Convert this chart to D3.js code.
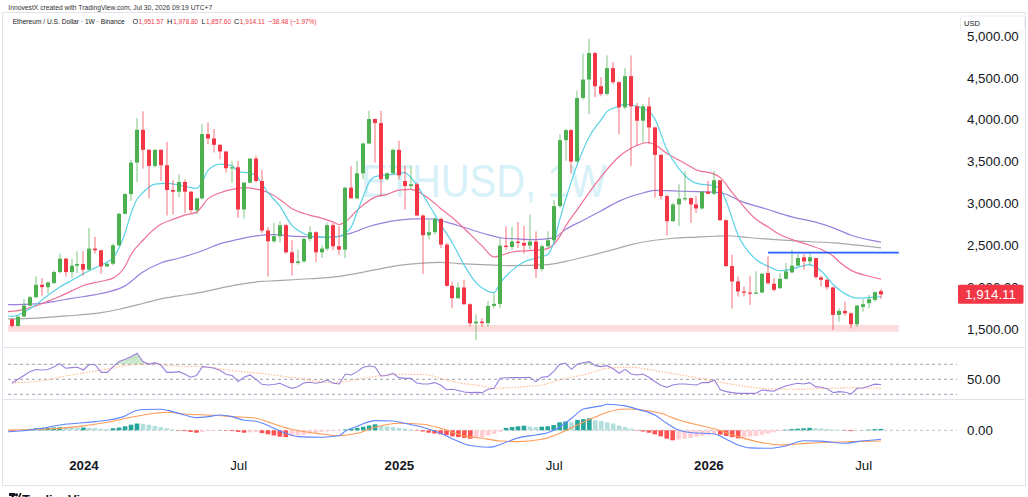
<!DOCTYPE html>
<html><head><meta charset="utf-8">
<script src="https://cdn.jsdelivr.net/npm/d3@7"></script>
<style>
html,body{margin:0;padding:0;background:#fff;}
svg{display:block;font-family:"Liberation Sans",Arial,sans-serif;}
</style></head><body>
<svg id="c" width="1028" height="497"></svg>
<script>
// ---------------- DATA ----------------
const firstWeek = "2023-10-09";           // Monday of first weekly bar
// weekly candles [open, high, low, close]
const ohlc = [
[1616,1628,1516,1536],[1536,1656,1528,1648],[1648,1856,1648,1780],[1780,1896,1768,1880],[1880,2128,1868,2028],
[2028,2108,1896,2000],[2000,2068,1920,2056],[2048,2200,2040,2180],[2180,2400,2168,2340],[2340,2350,2128,2180],
[2180,2336,2108,2256],[2256,2428,2168,2276],[2276,2428,2136,2208],[2208,2708,2200,2460],[2460,2600,2400,2440],
[2440,2448,2160,2248],[2248,2288,2240,2280],[2280,2520,2260,2500],[2500,2888,2488,2876],[2876,3120,2868,3112],
[3112,3520,3032,3488],[3488,4020,3256,3880],[3880,4100,3416,3640],[3640,3648,3064,3448],[3448,3648,3428,3640],
[3640,3648,3268,3456],[3456,3736,2856,3160],[3160,3276,2868,3140],[3140,3348,3076,3256],[3256,3288,2888,3140],
[3140,3148,2888,2920],[2920,3068,2868,3060],[3060,3948,3048,3828],[3828,3968,3708,3776],[3776,3888,3608,3700],
[3700,3708,3528,3620],[3620,3628,3368,3420],[3420,3508,3248,3432],[3432,3508,2828,2928],[2928,3256,2820,3248],
[3248,3540,3240,3536],[3536,3568,3248,3268],[3268,3396,2648,2676],[2676,2716,2128,2548],[2548,2768,2528,2608],
[2608,2788,2536,2740],[2740,2756,2400,2416],[2416,2560,2140,2288],[2288,2448,2268,2308],[2308,2596,2288,2576],
[2576,2728,2548,2656],[2656,2668,2300,2416],[2416,2500,2348,2460],[2460,2768,2436,2740],[2740,2768,2440,2488],
[2488,2728,2388,2448],[2448,3200,2348,3188],[3188,3448,3060,3060],[3060,3508,3048,3360],[3360,3728,3288,3716],
[3716,4108,3708,4008],[4008,4016,3488,3960],[3960,4108,3088,3290],[3290,3370,3270,3360],[3360,3656,3348,3640],
[3640,3748,3288,3336],[3268,3448,2928,3208],[3208,3448,3168,3228],[3228,3248,2848,2856],[2856,2868,2156,2620],
[2620,2808,2568,2656],[2656,2828,2628,2816],[2816,2828,2468,2508],[2508,2528,2008,2016],[2016,2068,1748,1868],
[1868,2056,1860,1996],[1996,2088,1788,1796],[1796,1808,1528,1568],[1568,1676,1368,1588],[1588,1628,1528,1570],
[1570,1836,1528,1776],[1776,1928,1748,1800],[1800,2588,1748,2496],[2496,2728,2448,2480],[2480,2720,2448,2544],
[2544,2780,2468,2528],[2528,2728,2400,2496],[2496,2868,2448,2544],[2544,2668,2108,2216],[2216,2508,2188,2488],
[2488,2668,2468,2560],[2560,3040,2528,2968],[2968,3828,2948,3756],[3756,3888,3508,3876],[3876,3888,3360,3500],
[3500,4348,3496,4260],[4260,4788,4240,4480],[4480,4968,4068,4796],[4796,4808,4268,4400],[4400,4508,4280,4308],
[4308,4768,4288,4616],[4616,4688,4428,4448],[4448,4456,3828,4148],[4148,4616,4128,4520],[4520,4768,3448,4160],
[4160,4200,3688,3988],[3988,4188,3728,4160],[4160,4268,3708,3908],[3908,3916,3068,3580],[3580,3588,3048,3088],
[3088,3108,2616,2788],[2788,3008,2776,2988],[2988,3228,2728,3056],[3056,3388,3028,3064],[3064,3068,2768,2988],
[2988,3088,2888,2940],[2940,3148,2928,3140],[3140,3268,3108,3116],[3116,3388,3100,3276],[3276,3280,2788,2800],
[2800,2808,2240,2252],[2252,2388,1744,2068],[2068,2128,1888,1948],[1948,2008,1888,1936],[1936,2136,1788,1928],
[1928,2188,1920,1936],[1936,2170,1928,2160],[2168,2368,2028,2048],[2040,2108,1948,1968],[1988,2168,1976,2100],
[2100,2288,2088,2188],[2176,2448,2168,2256],[2256,2396,2248,2348],[2356,2396,2208,2308],[2308,2408,2256,2356],
[2348,2348,2100,2120],[2116,2136,2008,2088],[2088,2100,1968,2000],[1996,2008,1488,1668],[1668,1748,1588,1716],
[1716,1828,1660,1688],[1688,1696,1508,1556],[1556,1788,1528,1780],[1764,1856,1708,1796],[1808,1908,1748,1856],
[1848,1948,1828,1940],[1951.57,1978.80,1857.60,1914.11]
];
// moving averages: [weekIndex, value]
const emaFast = [[-1,1660],[0,1650],[2,1700],[4,1790],[6,1900],[8,2000],[10,2080],[12,2160],[14,2230],[16,2300],[17,2350],[18,2470],[19,2650],[20,2880],[21,3050],[22,3130],[24,3230],[26,3240],[28,3220],[30,3190],[31,3180],[32,3260],[33,3400],[35,3470],[37,3450],[38,3380],[40,3360],[41,3330],[43,3128],[45,2968],[47,2740],[49,2640],[51,2600],[54,2596],[55,2608],[57,2720],[58,2900],[59,3080],[60,3250],[61,3320],[64,3348],[66,3368],[67,3310],[70,2990],[72,2750],[74,2528],[76,2260],[78,2050],[80,1950],[81,1935],[82,2048],[84,2200],[86,2300],[88,2345],[90,2390],[91,2528],[92,2800],[94,3270],[95,3470],[97,3800],[99,4000],[100,4100],[102,4160],[103,4188],[105,4156],[107,4100],[108,4010],[110,3648],[112,3420],[115,3240],[118,3210],[119,3168],[120,3020],[122,2620],[125,2330],[127,2250],[129,2196],[131,2216],[133,2256],[134,2268],[136,2190],[138,2028],[141,1885],[142,1868],[145,1880],[146,1888]];
const emaMid = [[-1,1705],[1,1720],[4,1775],[6,1830],[8,1888],[10,1955],[12,2020],[15,2070],[17,2108],[19,2250],[20,2390],[22,2560],[25,2750],[27,2808],[29,2860],[31,2896],[33,3060],[35,3128],[37,3168],[39,3188],[41,3170],[43,3130],[45,3048],[47,2940],[50,2860],[52,2825],[54,2776],[55,2748],[56,2780],[58,2920],[61,3075],[63,3108],[65,3160],[67,3168],[70,3060],[72,2940],[74,2828],[77,2630],[79,2490],[81,2360],[82,2375],[84,2420],[86,2432],[88,2442],[90,2460],[92,2600],[93,2728],[95,2930],[98,3230],[100,3408],[102,3560],[104,3660],[107,3728],[108,3700],[110,3600],[113,3480],[115,3400],[118,3350],[119,3308],[121,3130],[125,2810],[127,2720],[129,2628],[131,2570],[134,2500],[136,2450],[138,2370],[139,2300],[141,2200],[144,2130],[146,2096]];
const emaSlow = [[-1,1790],[4,1800],[7,1828],[10,1865],[14,1910],[16,1940],[19,2015],[22,2180],[25,2288],[28,2345],[32,2435],[35,2520],[38,2570],[41,2612],[44,2628],[47,2610],[51,2600],[53,2596],[55,2608],[57,2645],[60,2725],[62,2762],[65,2800],[68,2816],[71,2814],[73,2776],[76,2712],[80,2625],[82,2590],[85,2576],[88,2568],[91,2588],[93,2688],[96,2800],[99,2912],[102,3028],[106,3125],[108,3156],[111,3150],[115,3140],[118,3136],[120,3110],[122,3040],[127,2928],[131,2840],[135,2776],[138,2708],[141,2620],[146,2538]];
const emaLong = [[-1,1620],[4,1630],[9,1656],[15,1696],[18,1736],[22,1805],[25,1860],[28,1896],[32,1940],[35,1988],[38,2030],[42,2068],[44,2076],[50,2100],[55,2128],[58,2165],[62,2222],[65,2260],[69,2288],[72,2296],[75,2282],[79,2268],[82,2260],[84,2256],[90,2268],[93,2308],[97,2375],[101,2448],[104,2508],[108,2560],[111,2584],[115,2598],[118,2608],[120,2614],[124,2590],[131,2556],[138,2528],[146,2468]];
// RSI (one value per candle) and its moving average
const rsi = [
44.7,50,55,60,63,62.4,63,66.5,71,64.7,65.6,66,62.4,70,69.1,59.3,59.3,66.9,73.6,76.7,
80.2,84.7,73.6,70,72.2,69,59.3,59.3,60.2,57.1,52.7,55,66.9,66,64.7,61.6,56.5,55,46.9,52.7,
55.8,50,43.3,42.5,43,44.7,41.1,38,40,45,46,44.7,46,49,44.7,43.8,57,55.8,60.2,66,
67.8,66.5,54.4,55,58,52.2,51.3,51.3,45,43.8,43.8,45.6,42.4,36,36.7,35,33,32.2,32.5,32.2,
36.7,38,51.3,52,52.2,52.2,52.2,52.5,46.9,52.7,53.6,60.2,70,71.3,63.3,70.4,72,73.6,68.2,66.9,
68.2,64,58,63.3,57,55.8,57.1,52.7,47,42,39.3,42.4,43.8,43.8,43,42.5,45.6,45.6,49.1,36,
33.6,32.2,31.3,31.3,31.3,31.5,35.8,34.9,34,38,41.1,43,44.7,43.8,45.6,40.2,39.3,37,32.2,33.6,
32.7,30.4,38,38.5,41,43.5,43
];
const rsiMA = [[0,45.6],[4,46.9],[9,54.4],[15,62.4],[20,69.1],[24,70.4],[27,67.8],[32,66.9],[37,61.6],[43,56.7],[48,51.3],[54,45.6],[60,52.7],[65,56.7],[69,56.7],[72,51.3],[75,45.6],[79,41],[81,38],[86,40.2],[89,42.4],[92,49.1],[97,58],[100,64.7],[104,66],[109,60.2],[115,52.2],[120,44.7],[126,38],[131,36.7],[137,38],[142,38.9],[146,38]];
const rsiLevels = [70, 50, 30];
// MACD
const macdLine = [[-1,-40],[0,-30],[2,-10],[5,50],[8,133],[11,175],[14,217],[16,250],[18,310],[19,360],[20,440],[22,520],[25,525],[27,467],[29,383],[31,317],[33,342],[35,383],[37,342],[39,250],[41,225],[42,180],[44,50],[46,-75],[48,-158],[52,-175],[55,-130],[56,-20],[58,100],[61,242],[64,233],[66,175],[69,75],[72,-75],[75,-280],[77,-380],[80,-425],[81,-408],[83,-300],[85,-190],[88,-117],[90,-60],[92,75],[94,300],[96,530],[99,610],[100,650],[103,610],[105,530],[108,383],[110,175],[112,8],[114,-55],[118,-92],[120,-225],[122,-367],[124,-440],[127,-450],[130,-392],[133,-260],[136,-270],[140,-325],[142,-283],[146,-225]];
const macdSignal = [[-1,8],[5,25],[11,92],[16,200],[20,325],[24,425],[26,450],[29,408],[34,375],[37,342],[41,300],[44,158],[47,25],[52,-92],[55,-133],[58,-75],[61,75],[65,175],[69,150],[72,50],[76,-140],[79,-200],[82,-267],[85,-283],[89,-225],[92,-75],[95,133],[98,330],[100,450],[103,533],[106,508],[109,425],[112,258],[116,108],[119,-8],[122,-158],[126,-308],[129,-367],[132,-342],[137,-300],[141,-283],[146,-267]];
const macdHist = [
-25,-15,20,35,50,60,65,70,75,70,65,60,70,60,55,40,30,50,70,100,
140,170,160,140,110,80,50,20,-10,-20,-40,-60,-40,-20,-10,5,-10,-20,-40,-60,
-50,-40,-70,-100,-130,-160,-170,-150,-130,-110,-80,-60,-40,-30,-20,-10,20,40,60,90,
120,150,120,100,80,60,40,20,-10,-30,-60,-80,-100,-120,-150,-170,-190,-210,-190,-170,
-130,-90,-40,60,80,100,115,95,80,90,100,130,200,220,200,260,280,300,250,230,
200,170,120,80,40,-10,-30,-60,-100,-150,-210,-250,-230,-210,-190,-160,-140,-110,-90,-110,
-140,-170,-200,-180,-160,-140,-110,-80,-50,-20,15,30,40,50,60,50,45,35,20,10,
-10,-20,-5,5,15,30,35
];
// drawings
const supportZone = [1468, 1548];
const resistanceLevel = 2412;
const resistanceFrom = 127, drawingsTo = 149;
// axis ticks
const priceTicks = [1500,2000,2500,3000,3500,4000,4500,5000];
const xTickDates = ["2024-01-01","2024-07-01","2025-01-06","2025-07-07","2026-01-05","2026-07-06"];
const xTickLabels = ["2024","Jul","2025","Jul","2026","Jul"];
const lastPrice = 1914.11;
const legendKeys = ["O","H","L","C"];
const legendValues = ["1,951.57","1,978.80","1,857.60","1,914.11"];
const legendChange = "−38.48 (−1.97%)";

// ---------------- CHART ----------------
const svg = d3.select("#c");
const parse = d3.utcParse("%Y-%m-%d");
const t0 = parse(firstWeek);
const weekDate = i => new Date(t0.getTime() + i * 7 * 864e5);
const n = ohlc.length;
const x = d3.scaleUtc().domain([weekDate(0), weekDate(n - 1)]).range([12, 881]);
const y = d3.scaleLinear().domain([1500, 5000]).range([329, 36]);
const yR = d3.scaleLinear().domain([30, 70]).range([394.3, 364.3]);
const yM = d3.scaleLinear().domain([-500, 500]).range([450.3, 410.3]);
const UP = "#4caf50", DOWN = "#f23645", TXT = "#131722", GRID = "#e0e3eb";
const FONT = "Liberation Sans, Arial, sans-serif";

const defs = svg.append("defs");
defs.append("clipPath").attr("id","cm").append("rect").attr("x",8).attr("y",14).attr("width",949).attr("height",333);
defs.append("clipPath").attr("id","cr").append("rect").attr("x",8).attr("y",348).attr("width",949).attr("height",51);
defs.append("clipPath").attr("id","cmd").append("rect").attr("x",8).attr("y",400).attr("width",949).attr("height",52);
defs.append("clipPath").attr("id","cob").append("rect").attr("x",8).attr("y",348).attr("width",949).attr("height",yR(70)-348);
const grad = defs.append("linearGradient").attr("id","gob").attr("x1",0).attr("x2",0).attr("y1",0).attr("y2",1);
grad.append("stop").attr("offset","0%").attr("stop-color","#4caf50").attr("stop-opacity",0.35);
grad.append("stop").attr("offset","100%").attr("stop-color","#4caf50").attr("stop-opacity",0.03);

// frame
svg.append("rect").attr("x",2.5).attr("y",12.5).attr("width",1023).attr("height",473)
  .attr("fill","none").attr("stroke",GRID);
[347.5, 399.5].forEach(v => svg.append("line").attr("x1",2.5).attr("x2",1025.5).attr("y1",v).attr("y2",v).attr("stroke",GRID));

// header
svg.append("text").attr("x",8.3).attr("y",10).attr("font-size",7.3).attr("fill","#333")
  .attr("textLength",204).attr("lengthAdjust","spacingAndGlyphs")
  .text("InnovestX created with TradingView.com, Jul 30, 2026 09:19 UTC+7");
const hdr = svg.append("g").attr("font-size",7.3);
const HY = 24;
hdr.append("text").attr("x",12.7).attr("y",HY).attr("fill",TXT).attr("textLength",112).attr("lengthAdjust","spacingAndGlyphs")
  .text("Ethereum / U.S. Dollar · 1W · Binance");
const keyX = [132.4, 167, 201.5, 234];
const valX = [138.6, 173.2, 206, 239.8];
legendKeys.forEach((k,i) => {
  hdr.append("text").attr("x",keyX[i]).attr("y",HY).attr("fill",TXT).text(k);
  hdr.append("text").attr("x",valX[i]).attr("y",HY).attr("fill",DOWN)
    .attr("textLength",25).attr("lengthAdjust","spacingAndGlyphs").text(legendValues[i]);
});
hdr.append("text").attr("x",268.5).attr("y",HY).attr("fill",DOWN).attr("textLength",48).attr("lengthAdjust","spacingAndGlyphs")
  .text(legendChange);

// watermark
svg.append("text").attr("x",361).attr("y",197).attr("font-size",46).attr("fill","#d6f1f7")
  .attr("textLength",246).attr("lengthAdjust","spacingAndGlyphs").text("ETHUSD, 1W");

// main pane
const main = svg.append("g").attr("clip-path","url(#cm)");
main.append("rect").attr("x",x(weekDate(-2))).attr("width",x(weekDate(drawingsTo))-x(weekDate(-2)))
  .attr("y",y(supportZone[1])).attr("height",y(supportZone[0])-y(supportZone[1])).attr("fill","#fcdcdc");

const lineIdx = (sc) => d3.line().x(d => x(weekDate(d[0]))).y(d => sc(d[1])).curve(d3.curveMonotoneX);
[[emaLong,"#a8a8a8"],[emaSlow,"#9b80de"],[emaMid,"#ef7094"],[emaFast,"#5ad2e6"]].forEach(([arr,col]) => {
  main.append("path").attr("d",lineIdx(y)(arr)).attr("fill","none").attr("stroke",col).attr("stroke-width",1.2);
});

const candles = ohlc.map((d,i) => ({i, date: weekDate(i), o:d[0], h:d[1], l:d[2], c:d[3]}));
const cg = main.append("g");
cg.selectAll("rect.w").data(candles).join("rect").attr("class","w")
  .attr("x", d => Math.round(x(d.date)) - 0.5).attr("width",1)
  .attr("y", d => y(d.h)).attr("height", d => Math.max(1, y(d.l) - y(d.h)))
  .attr("fill", d => d.c >= d.o ? UP : DOWN).attr("opacity",0.7);
cg.selectAll("rect.b").data(candles).join("rect").attr("class","b")
  .attr("x", d => Math.round(x(d.date)) - 2).attr("width",4)
  .attr("y", d => y(Math.max(d.o,d.c))).attr("height", d => Math.max(1.2, Math.abs(y(d.o) - y(d.c))))
  .attr("fill", d => d.c >= d.o ? UP : DOWN);

main.append("line").attr("x1",x(weekDate(resistanceFrom))).attr("x2",x(weekDate(drawingsTo)))
  .attr("y1",y(resistanceLevel)).attr("y2",y(resistanceLevel)).attr("stroke","#2962ff").attr("stroke-width",1.7);

// RSI pane
const rp = svg.append("g").attr("clip-path","url(#cr)");
rsiLevels.forEach(v => rp.append("line").attr("x1",8).attr("x2",957).attr("y1",yR(v)).attr("y2",yR(v))
  .attr("stroke","#9598a1").attr("stroke-dasharray","3,3").attr("stroke-width",0.9));
const rsiPts = rsi.map((v,i) => [i,v]);
rp.append("path").attr("clip-path","url(#cob)")
  .attr("d", d3.area().x(d => x(weekDate(d[0]))).y0(yR(70)).y1(d => yR(d[1]))(rsiPts))
  .attr("fill","url(#gob)");
rp.append("path").attr("d", lineIdx(yR)(rsiMA)).attr("fill","none").attr("stroke","#ffab73")
  .attr("stroke-width",1.2).attr("stroke-dasharray","1.5,1.5").attr("opacity",0.8);
rp.append("path").attr("d", d3.line().x(d => x(weekDate(d[0]))).y(d => yR(d[1]))(rsiPts))
  .attr("fill","none").attr("stroke","#9a7fdc").attr("stroke-width",1.1);

// MACD pane
const mp = svg.append("g").attr("clip-path","url(#cmd)");
mp.append("line").attr("x1",8).attr("x2",957).attr("y1",yM(0)).attr("y2",yM(0))
  .attr("stroke","#9598a1").attr("stroke-dasharray","3,3").attr("stroke-width",0.8).attr("opacity",0.7);
const histColor = (v,p) => v >= 0 ? (v >= p ? "#26a69a" : "#b2dfdb") : (v <= p ? "#ff5252" : "#ffcdd2");
mp.selectAll("rect.h").data(macdHist.map((v,i) => ({i, v, p: i ? macdHist[i-1] : v}))).join("rect").attr("class","h")
  .attr("x", d => x(weekDate(d.i)) - 2.3).attr("width",4.6)
  .attr("y", d => Math.min(yM(0), yM(d.v))).attr("height", d => Math.abs(yM(d.v) - yM(0)))
  .attr("fill", d => histColor(d.v, d.p));
mp.append("path").attr("d", lineIdx(yM)(macdSignal)).attr("fill","none").attr("stroke","#ff9b55").attr("stroke-width",1.1);
mp.append("path").attr("d", lineIdx(yM)(macdLine)).attr("fill","none").attr("stroke","#5f86ff").attr("stroke-width",1.1);

// price axis
function rightAxis(scale, ticks, fmt) {
  const g = svg.append("g").attr("transform","translate(964,0)")
    .call(d3.axisRight(scale).tickValues(ticks).tickFormat(d3.format(fmt)).tickSize(0).tickPadding(3));
  g.select(".domain").remove();
  g.selectAll("text").attr("font-size",13.3).attr("fill",TXT).attr("font-family",FONT);
  return g;
}
rightAxis(y, priceTicks, ",.2f");
rightAxis(yR, [50], ".2f");
rightAxis(yM, [0], ".2f");

// USD box
svg.append("rect").attr("x",960.5).attr("y",16).attr("width",64).attr("height",15).attr("rx",3)
  .attr("fill","#fff").attr("stroke","#eceef2");
svg.append("text").attr("x",964).attr("y",26.3).attr("font-size",7.5).attr("fill",TXT).text("USD");

// last price label
svg.append("rect").attr("x",958).attr("y",y(lastPrice)-9.5).attr("width",65.5).attr("height",19).attr("rx",1.5).attr("fill",DOWN);
svg.append("text").attr("x",990.5).attr("y",y(lastPrice)+4.6).attr("text-anchor","middle").attr("font-size",13.3)
  .attr("fill","#fff").text(d3.format(",.2f")(lastPrice));

// time axis
const xa = svg.append("g").attr("transform","translate(0,452)")
  .call(d3.axisBottom(x).tickValues(xTickDates.map(parse)).tickSize(0).tickPadding(9)
    .tickFormat((d,i) => xTickLabels[i]));
xa.select(".domain").remove();
xa.selectAll("text").attr("font-size",13.3).attr("fill",TXT).attr("font-family",FONT)
  .attr("font-weight",(d,i) => xTickLabels[i] === "Jul" ? "normal" : "bold");

// TradingView logo (cut at bottom as in the screenshot)
const lg = svg.append("g").attr("fill","#131722");
lg.append("rect").attr("x",9).attr("y",493).attr("width",6).attr("height",3);
lg.append("rect").attr("x",11.5).attr("y",493).attr("width",2.5).attr("height",6);
lg.append("circle").attr("cx",16.5).attr("cy",494.8).attr("r",1.6);
lg.append("path").attr("d","M17.5 499 L19.8 493 L21.6 493 L19.3 499 Z");
svg.append("text").attr("x",22).attr("y",503.5).attr("font-size",13.5).attr("font-weight","bold").attr("fill","#131722")
  .attr("textLength",75).attr("lengthAdjust","spacingAndGlyphs").text("TradingView");
</script>
</body></html>
